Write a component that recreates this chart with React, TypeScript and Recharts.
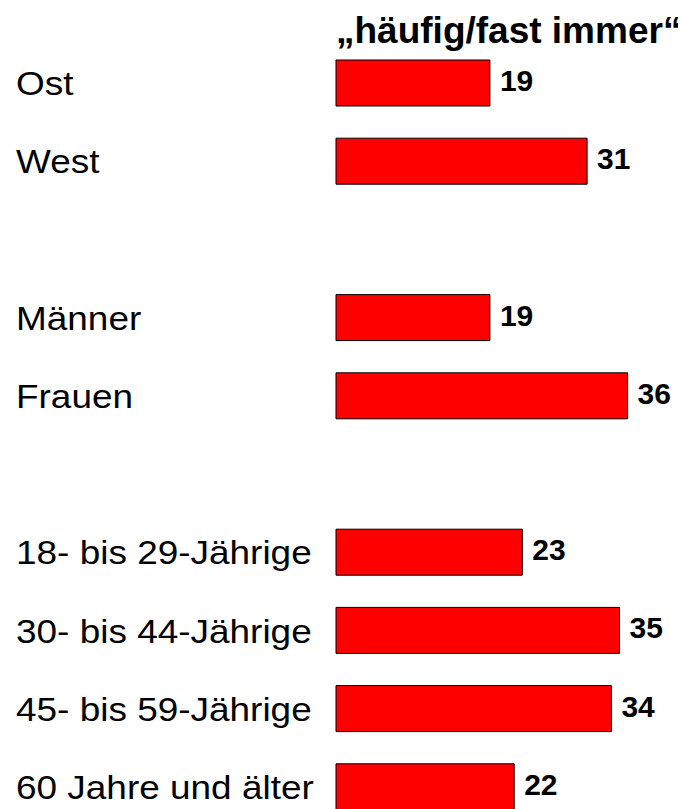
import { BarChart, Bar, XAxis, YAxis, LabelList } from 'recharts';

// rows in order, empty strings are the spacer rows between groups
const categories = [
  'Ost',
  'West',
  '',
  'Männer',
  'Frauen',
  '',
  '18- bis 29-Jährige',
  '30- bis 44-Jährige',
  '45- bis 59-Jährige',
  '60 Jahre und älter',
];
const values = [19, 31, null, 19, 36, null, 23, 35, 34, 22];
const seriesName = '„häufig/fast immer“';

const font = '"Liberation Sans", Arial, Helvetica, sans-serif';

const data = categories.map((name, i) => ({ name, value: values[i] }));

function CategoryTick(props: any) {
  const { y, payload } = props;
  if (!payload || !payload.value) return null;
  return (
    <g transform={`translate(8, ${y + 12}) scale(1.12, 1)`}>
      <text x={0} y={0} fontSize={33} fill="#000" fontFamily={font}>
        {payload.value}
      </text>
    </g>
  );
}

function ValueLabel(props: any) {
  const { x, y, width, height, value } = props;
  if (value === null || value === undefined) return null;
  return (
    <text
      x={x + width + 10}
      y={y + height / 2 + 8}
      fontSize={30}
      fontWeight="bold"
      fill="#000"
      fontFamily={font}
    >
      {value}
    </text>
  );
}

export default function App() {
  return (
    <div style={{ position: 'relative', width: 678, height: 818 }}>
      <BarChart
        width={678}
        height={818}
        data={data}
        layout="vertical"
        margin={{ top: 36, right: 26, left: 0, bottom: 0 }}
      >
        <XAxis type="number" domain={[0, 40]} hide />
        <YAxis
          type="category"
          dataKey="name"
          width={328}
          axisLine={false}
          tickLine={false}
          tick={<CategoryTick />}
          interval={0}
        />
        <Bar
          dataKey="value"
          fill="#ff0000"
          stroke="#000"
          strokeWidth={1}
          barSize={46}
          isAnimationActive={false}
        >
          <LabelList dataKey="value" content={<ValueLabel />} />
        </Bar>
        <text x={328} y={35} fontSize={37} fontWeight="bold" fill="#000" fontFamily={font}>
          {seriesName}
        </text>
      </BarChart>
    </div>
  );
}
